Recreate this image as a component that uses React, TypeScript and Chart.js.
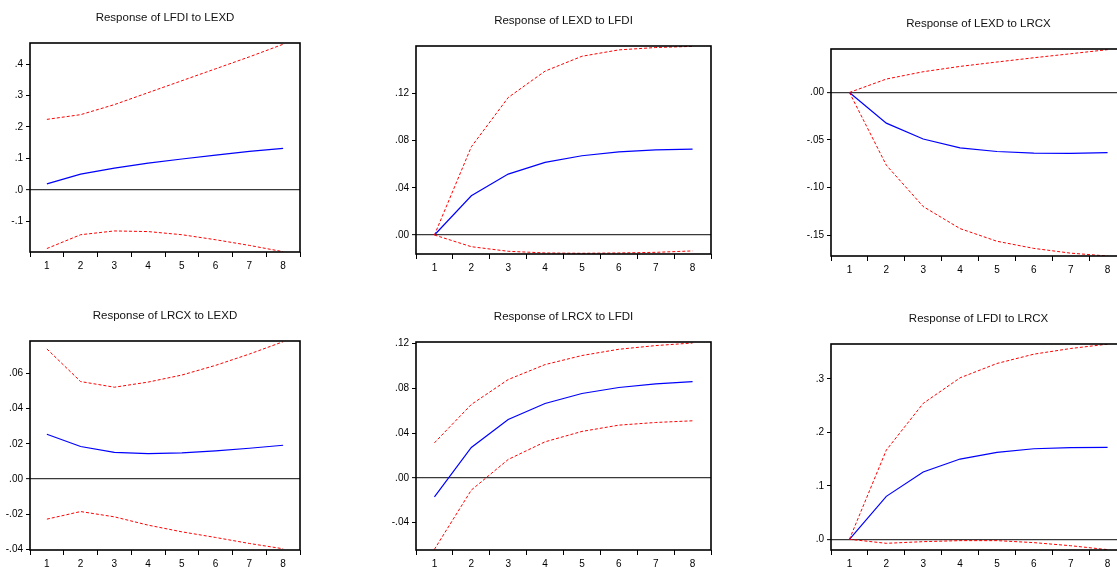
import React, { useEffect, useRef } from "react";
import { Chart, registerables } from "chart.js";
Chart.register(...registerables);

// ---------- data ----------
const periods = ["1", "2", "3", "4", "5", "6", "7", "8"];

// Response of LFDI to LEXD
const lfdiLexdResp = [0.019, 0.05, 0.069, 0.085, 0.098, 0.11, 0.122, 0.132];
const lfdiLexdUpper = [0.224, 0.239, 0.271, 0.309, 0.347, 0.385, 0.423, 0.463];
const lfdiLexdLower = [-0.187, -0.143, -0.131, -0.133, -0.143, -0.159, -0.177, -0.197];
const lfdiLexdTicks = [-0.1, 0, 0.1, 0.2, 0.3, 0.4];
const lfdiLexdTickLabels = ["-.1", ".0", ".1", ".2", ".3", ".4"];
const lfdiLexdRange = [-0.198, 0.467];

// Response of LEXD to LFDI
const lexdLfdiResp = [0, 0.0333, 0.0517, 0.0616, 0.0672, 0.0705, 0.0722, 0.0728];
const lexdLfdiUpper = [0, 0.0748, 0.1166, 0.139, 0.1516, 0.157, 0.159, 0.16];
const lexdLfdiLower = [0, -0.0099, -0.0138, -0.0152, -0.0155, -0.0152, -0.0147, -0.0135];
const lexdLfdiTicks = [0, 0.04, 0.08, 0.12];
const lexdLfdiTickLabels = [".00", ".04", ".08", ".12"];
const lexdLfdiRange = [-0.0161, 0.1603];

// Response of LEXD to LRCX
const lexdLrcxResp = [0, -0.0323, -0.049, -0.0582, -0.0621, -0.0638, -0.0641, -0.0632];
const lexdLrcxUpper = [0, 0.0141, 0.0218, 0.0274, 0.032, 0.0365, 0.0407, 0.045];
const lexdLrcxLower = [0, -0.0765, -0.12, -0.1432, -0.1565, -0.164, -0.169, -0.172];
const lexdLrcxTicks = [-0.15, -0.1, -0.05, 0];
const lexdLrcxTickLabels = ["-.15", "-.10", "-.05", ".00"];
const lexdLrcxRange = [-0.172, 0.0457];

// Response of LRCX to LEXD
const lrcxLexdResp = [0.0254, 0.0185, 0.0152, 0.0145, 0.0149, 0.016, 0.0175, 0.0192];
const lrcxLexdUpper = [0.0738, 0.0553, 0.0521, 0.055, 0.059, 0.0645, 0.0709, 0.0779];
const lrcxLexdLower = [-0.0227, -0.0184, -0.0214, -0.0261, -0.0299, -0.0331, -0.0365, -0.0395];
const lrcxLexdTicks = [-0.04, -0.02, 0, 0.02, 0.04, 0.06];
const lrcxLexdTickLabels = ["-.04", "-.02", ".00", ".02", ".04", ".06"];
const lrcxLexdRange = [-0.0402, 0.0783];

// Response of LRCX to LFDI
const lrcxLfdiResp = [-0.017, 0.0271, 0.0522, 0.0665, 0.0754, 0.0808, 0.084, 0.0861];
const lrcxLfdiUpper = [0.0313, 0.0656, 0.0879, 0.1013, 0.1094, 0.115, 0.1183, 0.1206];
const lrcxLfdiLower = [-0.064, -0.011, 0.0164, 0.0322, 0.0415, 0.0471, 0.0495, 0.051];
const lrcxLfdiTicks = [-0.04, 0, 0.04, 0.08, 0.12];
const lrcxLfdiTickLabels = ["-.04", ".00", ".04", ".08", ".12"];
const lrcxLfdiRange = [-0.0646, 0.1215];

// Response of LFDI to LRCX
const lfdiLrcxResp = [0, 0.0803, 0.1257, 0.15, 0.1624, 0.1692, 0.1715, 0.1718];
const lfdiLrcxUpper = [0, 0.1667, 0.254, 0.3018, 0.3286, 0.346, 0.3566, 0.3647];
const lfdiLrcxLower = [0, -0.0075, -0.0044, -0.0025, -0.0025, -0.0062, -0.012, -0.0193];
const lfdiLrcxTicks = [0, 0.1, 0.2, 0.3];
const lfdiLrcxTickLabels = [".0", ".1", ".2", ".3"];
const lfdiLrcxRange = [-0.02, 0.365];

// ---------- layout / style ----------
const FONT = "'Liberation Sans', Arial, sans-serif";
const TITLE_SIZE = 11.5;
const TICK_SIZE = 10;
const YW = 34;
const XH = 30;
const RP = 6;
const GAP = 25.5;

type Rect = { l: number; t: number; r: number; b: number };
type Spec = {
  title: string;
  resp: number[];
  upper: number[];
  lower: number[];
  ticks: number[];
  tickLabels: string[];
  range: number[];
  plot: Rect;
  top: number;
};

const framePlugin = {
  id: "frame",
  afterDatasetsDraw(chart: any) {
    const { ctx, chartArea: a } = chart;
    ctx.save();
    ctx.strokeStyle = "#000";
    ctx.lineWidth = 1.6;
    ctx.strokeRect(a.left, a.top, a.right - a.left, a.bottom - a.top);
    ctx.restore();
  },
};

function Panel({ spec }: { spec: Spec }) {
  const ref = useRef<HTMLCanvasElement | null>(null);
  const { plot, top } = spec;
  const left = plot.l - YW;
  const width = Math.round(plot.r - plot.l + YW + RP);
  const height = Math.round(plot.b - top + XH);
  useEffect(() => {
    if (!ref.current) return;
    const lh = TITLE_SIZE * 1.2;
    const chart = new Chart(ref.current, {
      type: "line",
      data: {
        labels: periods,
        datasets: [
          {
            data: spec.upper,
            borderColor: "#ff0000",
            borderWidth: 1,
            borderDash: [3, 2],
            pointRadius: 0,
            tension: 0,
          },
          {
            data: spec.lower,
            borderColor: "#ff0000",
            borderWidth: 1,
            borderDash: [3, 2],
            pointRadius: 0,
            tension: 0,
          },
          {
            data: spec.resp,
            borderColor: "#0000ff",
            borderWidth: 1.2,
            pointRadius: 0,
            tension: 0,
          },
        ],
      },
      options: {
        animation: false,
        responsive: false,
        maintainAspectRatio: false,
        layout: { padding: { left: 0, right: RP, top: 0, bottom: 0 } },
        plugins: {
          legend: { display: false },
          tooltip: { enabled: false },
          title: {
            display: true,
            text: spec.title,
            fullSize: false,
            color: "#111",
            font: { family: FONT, size: TITLE_SIZE, weight: "normal" },
            padding: {
              top: plot.t - top - GAP - lh / 2,
              bottom: GAP - lh / 2,
            },
          },
        },
        scales: {
          x: {
            type: "category",
            offset: true,
            afterFit: (s: any) => {
              s.height = XH;
            },
            border: { display: false },
            grid: {
              offset: true,
              drawOnChartArea: false,
              drawTicks: true,
              tickLength: 5,
              tickColor: "#000",
              tickWidth: 1,
            },
            ticks: {
              color: "#000",
              padding: 3,
              maxRotation: 0,
              autoSkip: false,
              font: { family: FONT, size: TICK_SIZE },
            },
          },
          y: {
            type: "linear",
            min: spec.range[0],
            max: spec.range[1],
            afterFit: (s: any) => {
              s.width = YW;
            },
            afterBuildTicks: (s: any) => {
              s.ticks = spec.ticks.map((v) => ({ value: v }));
            },
            border: { display: false },
            grid: {
              drawOnChartArea: true,
              drawTicks: true,
              tickLength: 4,
              tickColor: "#000",
              tickWidth: 1,
              color: (c: any) => (c.tick && Math.abs(c.tick.value) < 1e-9 ? "#3a3a3a" : "rgba(0,0,0,0)"),
              lineWidth: (c: any) => (c.tick && Math.abs(c.tick.value) < 1e-9 ? 1.3 : 1),
            },
            ticks: {
              color: "#000",
              padding: 3,
              font: { family: FONT, size: TICK_SIZE },
              callback: (v: any) => {
                const i = spec.ticks.findIndex((t) => Math.abs(t - Number(v)) < 1e-9);
                return i >= 0 ? spec.tickLabels[i] : "";
              },
            },
          },
        },
      },
      plugins: [framePlugin],
    } as any);
    return () => chart.destroy();
  }, []);
  return (
    <div style={{ position: "absolute", left, top, width, height }}>
      <canvas ref={ref} width={width} height={height} style={{ display: "block", width, height }} />
    </div>
  );
}

const specs: Spec[] = [
  {
    title: "Response of LFDI to LEXD",
    resp: lfdiLexdResp, upper: lfdiLexdUpper, lower: lfdiLexdLower,
    ticks: lfdiLexdTicks, tickLabels: lfdiLexdTickLabels, range: lfdiLexdRange,
    plot: { l: 30, t: 43, r: 300, b: 252 }, top: 0,
  },
  {
    title: "Response of LEXD to LFDI",
    resp: lexdLfdiResp, upper: lexdLfdiUpper, lower: lexdLfdiLower,
    ticks: lexdLfdiTicks, tickLabels: lexdLfdiTickLabels, range: lexdLfdiRange,
    plot: { l: 416, t: 46, r: 711, b: 254 }, top: 0,
  },
  {
    title: "Response of LEXD to LRCX",
    resp: lexdLrcxResp, upper: lexdLrcxUpper, lower: lexdLrcxLower,
    ticks: lexdLrcxTicks, tickLabels: lexdLrcxTickLabels, range: lexdLrcxRange,
    plot: { l: 831, t: 49, r: 1126, b: 256 }, top: 0,
  },
  {
    title: "Response of LRCX to LEXD",
    resp: lrcxLexdResp, upper: lrcxLexdUpper, lower: lrcxLexdLower,
    ticks: lrcxLexdTicks, tickLabels: lrcxLexdTickLabels, range: lrcxLexdRange,
    plot: { l: 30, t: 341, r: 300, b: 550 }, top: 280,
  },
  {
    title: "Response of LRCX to LFDI",
    resp: lrcxLfdiResp, upper: lrcxLfdiUpper, lower: lrcxLfdiLower,
    ticks: lrcxLfdiTicks, tickLabels: lrcxLfdiTickLabels, range: lrcxLfdiRange,
    plot: { l: 416, t: 342, r: 711, b: 550 }, top: 280,
  },
  {
    title: "Response of LFDI to LRCX",
    resp: lfdiLrcxResp, upper: lfdiLrcxUpper, lower: lfdiLrcxLower,
    ticks: lfdiLrcxTicks, tickLabels: lfdiLrcxTickLabels, range: lfdiLrcxRange,
    plot: { l: 831, t: 344, r: 1126, b: 550 }, top: 280,
  },
];

export default function App() {
  return (
    <div
      style={{
        position: "fixed",
        left: 0,
        top: 0,
        width: 1117,
        height: 567,
        overflow: "hidden",
        background: "#fff",
      }}
    >
      {specs.map((s, i) => (
        <Panel key={i} spec={s} />
      ))}
    </div>
  );
}
